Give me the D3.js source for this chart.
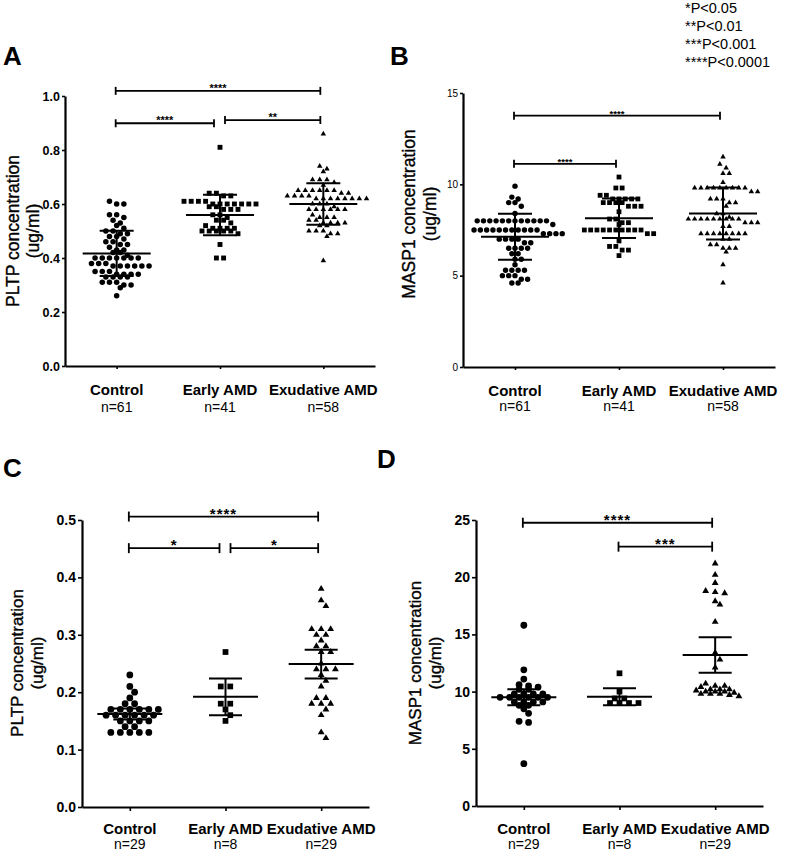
<!DOCTYPE html>
<html><head><meta charset="utf-8">
<script src="https://cdn.jsdelivr.net/npm/d3@7"></script>
<style>
html,body{margin:0;padding:0;background:#fff;}
svg text{font-family:"Liberation Sans",Arial,Helvetica,sans-serif;fill:#000;}
</style></head>
<body>
<svg id="fig" width="787" height="852"></svg>
<script>
// ---------------- DATA ----------------
const categories = ["Control", "Early AMD", "Exudative AMD"];
const nLabelsTop = ["n=61", "n=41", "n=58"];
const nLabelsBottom = ["n=29", "n=8", "n=29"];

// Panel A: PLTP (ug/ml), cohort 1
const pltpA_control = [0.61,0.60,0.60,0.56,0.56,0.55,0.54,0.53,0.52,0.51,0.50,0.50,0.49,0.49,0.48,0.48,0.47,
  0.46,0.46,0.45,0.45,0.44,0.43,0.43,0.42,0.42,0.41,0.40,0.40,0.40,0.40,0.40,0.40,0.40,0.38,0.38,0.38,
  0.37,0.37,0.37,0.37,0.37,0.37,0.35,0.35,0.35,0.34,0.34,0.34,0.34,0.33,0.33,0.33,0.33,0.31,0.31,0.31,
  0.30,0.30,0.29,0.26];
const pltpA_early = [0.81,0.64,0.64,0.63,0.63,0.61,0.61,0.61,0.61,0.60,0.60,0.60,0.60,0.60,0.60,0.60,
  0.59,0.59,0.58,0.58,0.58,0.56,0.56,0.55,0.54,0.54,0.53,0.52,0.51,0.51,0.51,0.51,0.50,0.50,0.50,0.50,0.50,
  0.49,0.45,0.40,0.40];
const pltpA_exud = [0.86,0.74,0.73,0.72,0.69,0.69,0.69,0.68,0.67,0.65,0.65,0.65,0.65,0.65,0.65,
  0.64,0.64,0.63,0.63,0.63,0.63,0.62,0.62,0.62,0.62,0.62,0.62,0.62,0.62,0.60,0.60,0.60,
  0.59,0.58,0.58,0.58,0.58,0.58,0.58,0.56,0.55,0.55,0.55,0.54,0.54,0.53,0.53,0.53,0.53,0.52,0.52,
  0.50,0.50,0.50,0.49,0.49,0.48,0.39];
const meanA = [0.417, 0.559, 0.600];
const sdA = [0.084, 0.075, 0.077];

// Panel B: MASP1 (ug/ml), cohort 1
const maspB_control = [9.9,9.3,9.2,9.0,9.0,8.8,8.4,8.0,8.0,8.0,8.0,8.0,8.0,8.0,8.0,8.0,8.0,8.0,8.0,7.8,
  7.5,7.5,7.5,7.5,7.5,7.5,7.5,7.5,7.5,7.5,7.5,7.3,7.3,7.3,7.3,7.0,7.0,7.0,7.0,6.8,6.8,
  6.5,6.5,6.5,6.5,6.2,6.2,5.9,5.9,5.6,5.3,5.3,5.3,5.3,5.0,5.0,5.0,4.8,4.8,4.6,4.6];
const maspB_early = [10.4,9.8,9.8,9.4,9.4,9.2,9.2,9.2,9.2,9.2,9.0,9.0,9.0,9.0,8.8,8.8,8.8,8.5,8.1,8.1,
  7.9,7.9,7.8,7.5,7.5,7.5,7.5,7.5,7.5,7.5,7.5,7.5,7.5,7.3,7.3,6.9,6.6,6.6,6.4,6.4,6.1];
const maspB_exud = [11.5,11.1,10.9,10.6,10.6,10.1,9.8,9.8,9.8,9.8,9.8,9.8,9.8,9.8,9.8,9.6,9.6,
  9.2,9.2,9.2,9.0,9.0,8.8,8.4,8.4,8.2,8.1,8.1,8.1,8.1,8.1,8.1,8.1,8.1,8.1,7.9,7.9,7.9,7.7,7.7,
  7.3,7.3,7.3,7.3,7.3,7.3,7.3,7.3,7.0,7.0,6.7,6.7,6.5,6.5,6.5,6.3,5.6,4.6];
const meanB = [7.13, 8.14, 8.40];
const sdB = [1.26, 1.08, 1.42];

// Panel C: PLTP (ug/ml), cohort 2
const pltpC_control = [0.23,0.21,0.20,0.19,0.18,0.18,0.17,0.17,0.17,0.17,0.17,0.17,
  0.16,0.16,0.16,0.16,0.16,0.16,0.15,0.15,0.15,0.15,0.14,0.14,0.13,0.13,0.13,0.13,0.13];
const pltpC_early = [0.27,0.21,0.21,0.18,0.18,0.17,0.16,0.15];
const pltpC_exud = [0.38,0.36,0.35,0.31,0.31,0.31,0.30,0.30,0.29,0.28,0.28,0.27,0.27,0.25,
  0.24,0.24,0.24,0.23,0.22,0.21,0.19,0.19,0.18,0.18,0.18,0.17,0.16,0.13,0.12];
const meanC = [0.162, 0.192, 0.249];
const ciC = [0.0095, 0.032, 0.025];

// Panel D: MASP1 (ug/ml), cohort 2
const maspD_control = [15.8,11.9,11.1,10.6,10.5,10.4,10.2,10.2,9.8,9.8,9.8,9.8,9.5,9.5,9.5,9.5,9.5,9.5,
  9.1,9.1,9.1,9.1,8.8,8.8,8.5,8.1,7.4,7.3,3.7];
const maspD_early = [11.6,10.0,9.4,9.4,9.0,9.0,9.0,9.0];
const maspD_exud = [21.2,20.2,19.5,18.8,18.7,18.6,17.9,17.6,16.1,13.4,12.8,12.1,
  10.7,10.5,10.5,10.4,10.2,10.2,10.2,10.1,10.0,10.0,10.0,9.9,9.8,9.8,9.8,9.7,9.6];
const meanD = [9.5, 9.55, 13.2];
const ciD = [0.7, 0.75, 1.55];

// tick values
const ticksA = [0, 0.2, 0.4, 0.6, 0.8, 1.0];
const ticksB = [0, 5, 10, 15];
const ticksC = [0, 0.1, 0.2, 0.3, 0.4, 0.5];
const ticksD = [0, 5, 10, 15, 20, 25];

// significance brackets: group indices, height in data units, label
const bracketsA = [[0, 2, 1.019, "****"], [0, 1, 0.899, "****"], [1, 2, 0.911, "**"]];
const bracketsB = [[0, 2, 13.76, "****"], [0, 1, 11.12, "****"]];
const bracketsC = [[0, 2, 0.506, "****"], [0, 1, 0.451, "*"], [1, 2, 0.451, "*"]];
const bracketsD = [[0, 2, 24.76, "****"], [1, 2, 22.67, "***"]];

const legendLines = ["*P<0.05", "**P<0.01", "***P<0.001", "****P<0.0001"];

// ---------------- DRAWING ----------------
const svg = d3.select("#fig");
const shapes = [d3.symbolCircle, d3.symbolSquare, d3.symbolTriangle];

function swarm(values, y, h, s, diam) {
  const pts = values.map(v => ({v, py: y(v)})).sort((a, b) => a.py - b.py);
  const out = [];
  let i = 0, prevBottom = -1e9, prevShift = 0, prevParity = -1;
  while (i < pts.length) {
    let j = i; const top = pts[i].py;
    while (j < pts.length && pts[j].py - top < h) j++;
    const grp = pts.slice(i, j), n = grp.length;
    let shift = 0;
    if (top - prevBottom < diam * 1.1 && (n % 2) === prevParity && prevShift === 0) shift = s / 2;
    grp.forEach((p, k) => { p.dx = (k - (n - 1) / 2) * s + shift; });
    out.push(...grp);
    prevBottom = grp[n - 1].py; prevShift = shift; prevParity = n % 2;
    i = j;
  }
  return out;
}

function panel(c) {
  const g = svg.append("g");
  const y = d3.scaleLinear().domain(c.domain).range([c.yBottom, c.yTop]);
  const x = d3.scalePoint().domain(categories).range([c.x0, c.x1]).padding(0.5);

  // y axis
  const ya = g.append("g").attr("transform", `translate(${c.x0},0)`)
    .call(d3.axisLeft(y).tickValues(c.ticks).tickFormat(c.fmt).tickSize(c.tickLen).tickSizeOuter(0).tickPadding(2));
  ya.select(".domain").attr("stroke-width", 2.2).attr("stroke", "#000");
  ya.selectAll(".tick line").attr("stroke-width", 1.6).attr("stroke", "#000");
  ya.selectAll(".tick text").style("font-size", c.tickFont + "px").style("font-weight", c.tickWeight)
    .style("font-family", c.tickFamily).attr("fill", "#000");

  // x axis
  const xa = g.append("g").attr("transform", `translate(0,${c.yBottom})`)
    .call(d3.axisBottom(x).tickSize(c.tickLen).tickSizeOuter(0).tickFormat(""));
  xa.select(".domain").attr("stroke-width", 2.2).attr("stroke", "#000");
  xa.selectAll(".tick line").attr("stroke-width", 1.6).attr("stroke", "#000");

  // category labels
  categories.forEach((cat, i) => {
    g.append("text").attr("x", x(cat)).attr("y", c.yBottom + c.catDy).attr("text-anchor", "middle")
      .style("font-size", "15px").style("font-weight", "bold").text(cat);
    g.append("text").attr("x", x(cat)).attr("y", c.yBottom + c.nDy).attr("text-anchor", "middle")
      .style("font-size", "14px").text(c.nLabels[i]);
  });

  // y title
  c.title.forEach((t, k) => {
    g.append("text").attr("transform", `translate(${c.titleX[k]},${c.titleY}) rotate(-90)`)
      .attr("text-anchor", "middle").attr("dominant-baseline", "central")
      .attr("stroke", "#000").attr("stroke-width", 0.35)
      .style("font-size", c.titleFont + "px").text(t);
  });

  // points
  c.data.forEach((vals, i) => {
    const cx = x(categories[i]);
    const pts = swarm(vals, y, c.binH, c.spacing, c.diam);
    g.append("g").selectAll("path").data(pts).join("path")
      .attr("transform", d => `translate(${cx + d.dx},${d.py})`)
      .attr("d", d3.symbol().type(shapes[i]).size(c.symSize[i]))
      .attr("fill", "#000");
  });

  // mean and error bars
  c.means.forEach((m, i) => {
    const cx = x(categories[i]);
    const e = c.errs[i];
    const lg = g.append("g").attr("stroke", "#000").attr("stroke-width", 2);
    lg.append("line").attr("x1", cx - c.meanHalf).attr("x2", cx + c.meanHalf).attr("y1", y(m)).attr("y2", y(m));
    lg.append("line").attr("x1", cx).attr("x2", cx).attr("y1", y(m + e)).attr("y2", y(m - e));
    [m + e, m - e].forEach(v => lg.append("line").attr("x1", cx - c.capHalf).attr("x2", cx + c.capHalf)
      .attr("y1", y(v)).attr("y2", y(v)));
  });

  // brackets
  c.brackets.forEach(([a, b, v, lab]) => {
    const near = o => Math.abs(o[2] - v) < c.domain[1] * 0.03;
    const sharedLeft = c.brackets.some(o => o[1] === a && near(o));
    const sharedRight = c.brackets.some(o => o[0] === b && near(o));
    const xa1 = x(categories[a]) + (sharedLeft ? 5 : -1);
    const xb1 = x(categories[b]) - (sharedRight ? 6 : 3);
    const yy = y(v);
    const bg = g.append("g").attr("stroke", "#000").attr("stroke-width", 1.8);
    bg.append("line").attr("x1", xa1).attr("x2", xb1).attr("y1", yy).attr("y2", yy);
    [xa1, xb1].forEach(xx => bg.append("line").attr("x1", xx).attr("x2", xx)
      .attr("y1", yy - c.endTick).attr("y2", yy + c.endTick));
    g.append("text").attr("x", (xa1 + xb1) / 2).attr("y", yy + c.starDy).attr("text-anchor", "middle")
      .style("font-size", c.starFont + "px").style("font-weight", "bold")
      .style("letter-spacing", c.starSpacing + "px").text(lab);
  });

  // panel letter
  svg.append("text").attr("x", c.letterX).attr("y", c.letterY).style("font-size", "26px")
    .style("font-weight", "bold").text(c.letter);
}

const fmt1 = d3.format(".1f"), fmt0 = d3.format("d");

panel({letter: "A", letterX: 3, letterY: 65,
  x0: 65, x1: 375, yTop: 96, yBottom: 366, domain: [0, 1], ticks: ticksA, fmt: fmt1,
  tickFont: 12.5, tickWeight: "bold", tickFamily: null, tickLen: 3,
  data: [pltpA_control, pltpA_early, pltpA_exud], means: meanA, errs: sdA,
  brackets: bracketsA, starFont: 11, starDy: 1, starSpacing: 0, endTick: 4,
  nLabels: nLabelsTop, catDy: 29, nDy: 45.5,
  title: ["PLTP concentration", "(ug/ml)"], titleX: [13, 32.5], titleY: 231, titleFont: 17.5,
  binH: 5, spacing: 7.2, diam: 5.5, symSize: [24, 24, 13], meanHalf: 34, capHalf: 17});

panel({letter: "B", letterX: 390, letterY: 65,
  x0: 463, x1: 775, yTop: 93, yBottom: 367, domain: [0, 15], ticks: ticksB, fmt: fmt0,
  tickFont: 10, tickWeight: "normal", tickFamily: "'Liberation Sans Narrow', 'Liberation Sans', Arial, sans-serif", tickLen: 3,
  data: [maspB_control, maspB_early, maspB_exud], means: meanB, errs: sdB,
  brackets: bracketsB, starFont: 9.5, starDy: 1, starSpacing: 0, endTick: 4,
  nLabels: nLabelsTop, catDy: 28.5, nDy: 44,
  title: ["MASP1 concentration", "(ug/ml)"], titleX: [408.5, 430], titleY: 214, titleFont: 17.5,
  binH: 5, spacing: 6.3, diam: 5.3, symSize: [23, 23, 13], meanHalf: 34, capHalf: 17});

panel({letter: "C", letterX: 3, letterY: 477,
  x0: 82, x1: 369, yTop: 520, yBottom: 807, domain: [0, 0.5], ticks: ticksC, fmt: fmt1,
  tickFont: 14, tickWeight: "bold", tickFamily: null, tickLen: 4,
  data: [pltpC_control, pltpC_early, pltpC_exud], means: meanC, errs: ciC,
  brackets: bracketsC, starFont: 15, starDy: 2, starSpacing: 1, endTick: 5,
  nLabels: nLabelsBottom, catDy: 26.5, nDy: 41.5,
  title: ["PLTP concentration", "(ug/ml)"], titleX: [17, 37], titleY: 663, titleFont: 17,
  binH: 5, spacing: 9.5, diam: 6.7, symSize: [36, 33, 20], meanHalf: 32.5, capHalf: 16.5});

panel({letter: "D", letterX: 377, letterY: 468,
  x0: 476, x1: 763, yTop: 520, yBottom: 806, domain: [0, 25], ticks: ticksD, fmt: fmt0,
  tickFont: 14, tickWeight: "bold", tickFamily: null, tickLen: 4,
  data: [maspD_control, maspD_early, maspD_exud], means: meanD, errs: ciD,
  brackets: bracketsD, starFont: 15, starDy: 2, starSpacing: 1, endTick: 5,
  nLabels: nLabelsBottom, catDy: 27.5, nDy: 42.5,
  title: ["MASP1 concentration", "(ug/ml)"], titleX: [415, 435], titleY: 663, titleFont: 17,
  binH: 3, spacing: 9.5, diam: 6.7, symSize: [36, 33, 20], meanHalf: 32.5, capHalf: 16.5});

// legend
svg.append("g").selectAll("text").data(legendLines).join("text")
  .attr("x", 685).attr("y", (d, i) => 13 + i * 18).style("font-size", "14.5px").text(d => d);
</script>
</body></html>
